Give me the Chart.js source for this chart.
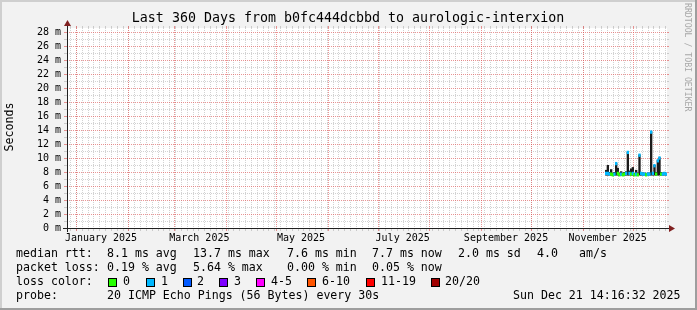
<!DOCTYPE html>
<html>
<head>
<meta charset="utf-8">
<script src="https://cdn.jsdelivr.net/npm/chart.js@4.4.0/dist/chart.umd.min.js"></script>
<style>
  html, body { margin: 0; padding: 0; background: #f2f2f2; }
  canvas { display: block; }
</style>
</head>
<body>
<canvas id="smokeChart" width="697" height="310"></canvas>
<script>
// Dados (dias contados a partir do início do gráfico: 26 Dez 2024 14:16:32)
const dayNumbers = [323.5, 324.5, 325.5, 326.5, 327.5, 328.5, 329.5, 330.5, 331.5, 332.5,
                    333.5, 334.5, 335.5, 336.5, 337.5, 338.5, 339.5, 340.5, 341.5, 342.5,
                    343.5, 344.5, 345.5, 346.5, 347.5, 348.5, 349.5, 350.5, 351.5, 352.5,
                    353.5, 354.5, 355.5, 356.5, 357.5, 358.5, 359.5];
const medianRtt = [7.8, 7.8, 7.7, 7.7, 7.6, 7.7, 9.2, 7.8, 7.6, 7.7,
                   7.6, 7.7, 7.8, 10.8, 7.8, 7.7, 7.8, 7.6, 7.7, 7.6,
                   10.4, 7.8, 7.7, 7.7, 7.6, 7.7, 7.7, 13.7, 7.8, 8.9,
                   7.7, 9.6, 10.0, 7.7, 7.7, 7.8, 7.7];
const smokeLow = [7.5, 7.5, 7.5, 7.5, 7.5, 7.5, 7.5, 7.5, 7.5, 7.5,
                  7.5, 7.5, 7.5, 7.5, 7.5, 7.5, 7.5, 7.5, 7.5, 7.5,
                  7.5, 7.5, 7.5, 7.5, 7.5, 7.5, 7.5, 7.5, 7.5, 7.5,
                  7.5, 7.5, 7.5, 7.5, 7.5, 7.5, 7.5];
const smokeHigh = [8.3, 9.0, 8.0, 8.4, 7.9, 8.0, 9.3, 8.6, 7.9, 8.1,
                   7.9, 8.0, 8.1, 10.9, 8.2, 8.5, 8.7, 7.9, 8.3, 7.9,
                   10.5, 8.0, 7.9, 7.9, 7.8, 7.9, 7.9, 13.8, 8.0, 9.0,
                   8.0, 9.7, 10.1, 8.0, 7.9, 8.0, 7.9];
const lossCount = [1, 1, 1, 0, 0, 1, 1, 0, 0, 1,
                   0, 0, 1, 1, 1, 0, 1, 0, 1, 0,
                   1, 1, 1, 1, 0, 1, 1, 1, 1, 1,
                   0, 1, 1, 0, 1, 1, 1];

const yTickValues = [0, 2, 4, 6, 8, 10, 12, 14, 16, 18, 20, 22, 24, 26, 28];
const monthLabels = ['January 2025', 'March 2025', 'May 2025', 'July 2025', 'September 2025', 'November 2025'];
const monthLabelMonths = [0, 2, 4, 6, 8, 10];

const lossNames = ['0', '1', '2', '3', '4-5', '6-10', '11-19', '20/20'];
const lossColors = ['#26ff00', '#00b8ff', '#0059ff', '#7e00ff', '#ff00ff', '#ff5500', '#ff0000', '#a10000'];

const legendRtt = [['median rtt:', 16], ['8.1 ms avg', 107], ['13.7 ms max', 193], ['7.6 ms min', 287],
                   ['7.7 ms now', 372], ['2.0 ms sd', 458], ['4.0', 537], ['am/s', 579]];
const legendLoss = [['packet loss:', 16], ['0.19 % avg', 107], ['5.64 % max', 193], ['0.00 % min', 287],
                    ['0.05 % now', 372]];

// Datas
const GRAPH_START = Date.UTC(2024, 11, 26, 14, 16, 32);
const DAY = 86400000;
function dayOf(y, m, d) { return (Date.UTC(y, m, d) - GRAPH_START) / DAY; }

const monthStarts = [];
for (let m = 0; m < 12; m++) monthStarts.push(dayOf(2025, m, 1));
const labelDays = monthLabelMonths.map(m => dayOf(2025, m, 16));

function lossBucket(n) {
    if (n <= 3) return n;
    if (n <= 5) return 4;
    if (n <= 10) return 5;
    if (n <= 19) return 6;
    return 7;
}

const MONO = '"DejaVu Sans Mono", monospace';
const BAND = 0.19; // meia largura da linha da mediana (ms)

function crisp(v) { return Math.round(v) + 0.5; }

const rrdLook = {
    id: 'rrdLook',
    beforeDraw(chart) {
        const { ctx, chartArea: a, width: W, height: H } = chart;
        ctx.save();
        ctx.fillStyle = '#f2f2f2';
        ctx.fillRect(0, 0, W, H);
        ctx.fillStyle = '#cfcfcf';
        ctx.fillRect(0, 0, W, 2);
        ctx.fillRect(0, 0, 2, H);
        ctx.fillStyle = '#9e9e9e';
        ctx.fillRect(0, H - 2, W, 2);
        ctx.fillRect(W - 2, 0, 2, H);
        ctx.fillStyle = '#ffffff';
        ctx.fillRect(a.left, a.top, a.right - a.left, a.bottom - a.top);
        ctx.restore();
    },
    beforeDatasetsDraw(chart) {
        const { ctx, chartArea: a } = chart;
        const xs = chart.scales.x, ys = chart.scales.y;
        const minorCol = 'rgba(143,143,143,0.4)';
        const majorCol = 'rgba(222,79,79,0.6)';
        ctx.save();
        ctx.lineWidth = 1;

        function hLine(v, col) {
            const y = crisp(ys.getPixelForValue(v));
            ctx.strokeStyle = col;
            ctx.setLineDash([]);
            ctx.beginPath();
            ctx.moveTo(a.left - 3, y); ctx.lineTo(a.left, y);
            ctx.moveTo(a.right, y); ctx.lineTo(a.right + 2, y);
            ctx.stroke();
            ctx.setLineDash([1, 1]);
            ctx.beginPath();
            ctx.moveTo(a.left, y); ctx.lineTo(a.right, y);
            ctx.stroke();
        }
        function vLine(v, col) {
            const x = crisp(xs.getPixelForValue(v));
            ctx.strokeStyle = col;
            ctx.setLineDash([]);
            ctx.beginPath();
            ctx.moveTo(x, a.bottom); ctx.lineTo(x, a.bottom + 3);
            ctx.moveTo(x, a.top - 2); ctx.lineTo(x, a.top);
            ctx.stroke();
            ctx.setLineDash([1, 1]);
            ctx.beginPath();
            ctx.moveTo(x, a.top); ctx.lineTo(x, a.bottom);
            ctx.stroke();
        }

        for (let v = 1; v <= Math.floor(ys.max); v++) {
            if (v % 2 !== 0) hLine(v, minorCol);
        }
        for (let d = 1.8; d < xs.max; d += 3.5) vLine(d, minorCol);
        yTickValues.forEach(v => { if (v > 0) hLine(v, majorCol); });
        monthStarts.forEach(d => { if (d > 0 && d < xs.max) vLine(d, majorCol); });
        ctx.restore();
    },
    afterDatasetsDraw(chart) {
        const { ctx, chartArea: a } = chart;
        ctx.save();
        ctx.strokeStyle = '#1f1f1f';
        ctx.lineWidth = 1;
        ctx.beginPath();
        ctx.moveTo(a.left - 4, a.bottom + 0.5); ctx.lineTo(a.right + 4, a.bottom + 0.5);
        ctx.moveTo(a.left + 0.5, a.bottom + 4); ctx.lineTo(a.left + 0.5, a.top - 4);
        ctx.stroke();
        ctx.fillStyle = '#802020';
        ctx.beginPath();
        ctx.moveTo(a.right + 2, a.bottom - 3); ctx.lineTo(a.right + 2, a.bottom + 4);
        ctx.lineTo(a.right + 8, a.bottom + 0.5); ctx.closePath();
        ctx.fill();
        ctx.beginPath();
        ctx.moveTo(a.left - 3, a.top - 2); ctx.lineTo(a.left + 4, a.top - 2);
        ctx.lineTo(a.left + 0.5, a.top - 8); ctx.closePath();
        ctx.fill();
        ctx.restore();
    },
    afterDraw(chart) {
        const { ctx } = chart;
        ctx.save();
        ctx.fillStyle = '#000';

        // Título
        ctx.font = '13.3px ' + MONO;
        ctx.textAlign = 'center';
        ctx.textBaseline = 'middle';
        ctx.fillText('Last 360 Days from b0fc444dcbbd to aurologic-interxion', 348, 19);

        // Eixo Y
        ctx.save();
        ctx.font = '11.6px ' + MONO;
        ctx.translate(10, 127);
        ctx.rotate(-Math.PI / 2);
        ctx.fillText('Seconds', 0, 0);
        ctx.restore();

        // Marca lateral
        ctx.save();
        ctx.fillStyle = '#a8a8a8';
        ctx.font = '8.2px ' + MONO;
        ctx.textAlign = 'left';
        ctx.translate(687, 3);
        ctx.rotate(Math.PI / 2);
        ctx.fillText('RRDTOOL / TOBI OETIKER', 0, 0);
        ctx.restore();

        // Legenda
        ctx.font = '11.6px ' + MONO;
        ctx.textAlign = 'left';
        ctx.textBaseline = 'middle';
        legendRtt.forEach(([s, x]) => ctx.fillText(s, x, 254));
        legendLoss.forEach(([s, x]) => ctx.fillText(s, x, 268));
        ctx.fillText('loss color:', 16, 282);
        const boxX = [108, 146, 183, 219, 256, 307, 366, 431];
        const textX = [123, 161, 197, 234, 271, 322, 381, 445];
        lossNames.forEach((name, i) => {
            ctx.fillStyle = lossColors[i];
            ctx.fillRect(boxX[i], 278, 8, 8);
            ctx.strokeStyle = '#000';
            ctx.lineWidth = 1;
            ctx.strokeRect(boxX[i] + 0.5, 278.5, 8, 8);
            ctx.fillStyle = '#000';
            ctx.fillText(name, textX[i], 282);
        });
        ctx.fillText('probe:', 16, 296);
        ctx.fillText('20 ICMP Echo Pings (56 Bytes) every 30s', 107, 296);
        ctx.fillText('Sun Dec 21 14:16:32 2025', 513, 296);
        ctx.restore();
    }
};

const ctx = document.getElementById('smokeChart').getContext('2d');

new Chart(ctx, {
    type: 'bar',
    data: {
        datasets: [{
            label: 'median rtt',
            data: dayNumbers.map((d, i) => ({ x: d, y: [medianRtt[i] - BAND, medianRtt[i] + BAND] })),
            backgroundColor: lossCount.map(n => lossColors[lossBucket(n)]),
            order: 0
        }, {
            label: 'smoke',
            data: dayNumbers.map((d, i) => ({ x: d, y: [smokeLow[i], smokeHigh[i]] })),
            backgroundColor: '#1c1c1c',
            barPercentage: 1.4,
            order: 1
        }]
    },
    options: {
        responsive: false,
        animation: false,
        devicePixelRatio: 1,
        layout: { padding: { left: 0, top: 28, right: 30, bottom: 0 } },
        datasets: {
            bar: { grouped: false, barPercentage: 1, categoryPercentage: 1, borderWidth: 0 }
        },
        plugins: {
            legend: { display: false },
            tooltip: { enabled: false }
        },
        scales: {
            x: {
                type: 'linear',
                min: 0,
                max: 360,
                offset: false,
                grid: { display: false, drawTicks: false },
                border: { display: false },
                afterBuildTicks: s => { s.ticks = labelDays.map(v => ({ value: v })); },
                afterFit: s => { s.height = 82; },
                ticks: {
                    autoSkip: false,
                    maxRotation: 0,
                    padding: 4,
                    color: '#000',
                    font: { family: MONO, size: 10 },
                    callback: (v, i) => monthLabels[i]
                }
            },
            y: {
                min: 0,
                max: 200 / 7,
                grid: { display: false, drawTicks: false },
                border: { display: false },
                afterBuildTicks: s => { s.ticks = yTickValues.map(v => ({ value: v })); },
                afterFit: s => { s.width = 67; },
                ticks: {
                    autoSkip: false,
                    padding: 6,
                    color: '#000',
                    font: { family: MONO, size: 10 },
                    callback: v => v + ' m'
                }
            }
        }
    },
    plugins: [rrdLook]
});
</script>
</body>
</html>
